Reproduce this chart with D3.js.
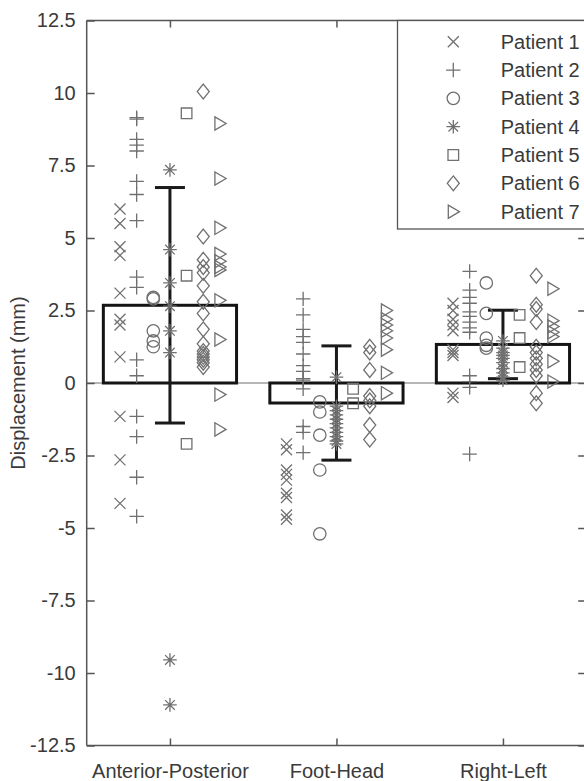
<!DOCTYPE html>
<html><head><meta charset="utf-8">
<script src="https://cdn.jsdelivr.net/npm/d3@7"></script>
<style>body{margin:0;background:#fff}svg{display:block}text{font-family:"Liberation Sans",Arial,sans-serif}</style>
</head><body><svg id="c" width="584" height="781"></svg>
<script>
const categories = ["Anterior-Posterior", "Foot-Head", "Right-Left"];
const yTicks = [-12.5, -10, -7.5, -5, -2.5, 0, 2.5, 5, 7.5, 10, 12.5];
const barMeans = [2.68, -0.69, 1.33];
const barStd = [4.06, 1.97, 1.18];
const patientNames = ["Patient 1","Patient 2","Patient 3","Patient 4","Patient 5","Patient 6","Patient 7"];
const patientOffsets = [-0.3, -0.2, -0.1, 0, 0.1, 0.2, 0.3];
// per patient: [AP values, FH values, RL values]
const patient1 = [[6.0, 5.5, 4.7, 4.4, 3.1, 2.2, 2.0, 0.9, -1.15, -2.65, -4.15],
                  [-2.1, -2.3, -3.0, -3.15, -3.35, -3.8, -3.95, -4.55, -4.7],
                  [2.75, 2.5, 2.2, 2.0, 1.8, 1.15, 1.05, 0.95, -0.35, -0.5]];
const patient2 = [[9.15, 9.1, 8.4, 8.2, 8.0, 6.95, 6.5, 5.6, 3.65, 3.3, 0.8, 0.25, -1.15, -1.85, -3.25, -4.6],
                  [2.9, 2.35, 1.85, 1.6, 1.4, 1.0, 0.6, 0.4, 0.15, 0.1, -0.2, -1.5, -1.7, -2.4],
                  [3.85, 3.2, 2.95, 2.75, 2.45, 2.3, 2.1, 1.9, 1.75, 0.25, 0.05, -0.15, -2.45]];
const patient3 = [[2.95, 2.9, 1.8, 1.45, 1.25],
                  [-0.65, -1.0, -1.8, -3.0, -5.2],
                  [3.45, 2.4, 1.55, 1.3, 1.2]];
const patient4 = [[7.35, 4.6, 3.45, 2.65, 1.8, 1.05, -9.55, -11.1],
                  [0.2, -0.8, -0.95, -1.1, -1.25, -1.4, -1.55, -1.7, -1.85, -2.0, -2.1],
                  [1.45, 1.2, 1.05, 0.95, 0.85, 0.7, 0.5, 0.35, 0.2, 0.1]];
const patient5 = [[9.3, 3.7, -2.1],
                  [-0.2, -0.7],
                  [2.35, 1.55, 0.55]];
const patient6 = [[10.05, 5.05, 4.25, 4.0, 3.8, 3.35, 2.8, 2.4, 1.85, 1.35, 1.1, 1.0, 0.9, 0.8, 0.7, 0.55],
                  [1.25, 1.05, 0.45, -0.45, -0.6, -0.8, -1.45, -1.95],
                  [3.7, 2.7, 2.55, 2.1, 1.25, 1.05, 0.85, 0.65, 0.45, 0.25, -0.35, -0.7]];
const patient7 = [[8.95, 7.05, 5.35, 4.45, 4.2, 4.0, 3.9, 2.85, 1.5, -0.4, -1.6],
                  [2.5, 2.2, 2.0, 1.8, 1.55, 1.15, 0.35, -0.35],
                  [3.25, 2.15, 1.95, 1.75, 1.6, 0.75, 0.05]];
const patients = [patient1, patient2, patient3, patient4, patient5, patient6, patient7];

const svg = d3.select("#c");
const L = 86.7, R = 586.2, T = 20.5, B = 745.5;
const x = d3.scaleLinear().domain([0.5, 3.5]).range([L, R]);
const y = d3.scaleLinear().domain([-12.5, 12.5]).range([B, T]);
const axisCol = "#555", textCol = "#3a3a3a", markCol = "#707070";
const FS = 20;

// marker paths
const markers = [
  "M-5.5,-5.5L5.5,5.5M-5.5,5.5L5.5,-5.5",
  "M-7.2,0H7.2M0,-7.2V7.2",
  "circle",
  "M-6.8,0H6.8M0,-6.8V6.8M-4.8,-4.8L4.8,4.8M-4.8,4.8L4.8,-4.8",
  "M-5.3,-5.3H5.3V5.3H-5.3Z",
  "M0,-7.4L6,0L0,7.4L-6,0Z",
  "M-5,-6.6L6.2,0L-5,6.6Z"
];
function drawMarker(g, k, cx, cy) {
  if (markers[k] === "circle") {
    g.append("circle").attr("cx", cx).attr("cy", cy).attr("r", 6.2)
      .attr("fill", "none").attr("stroke", markCol).attr("stroke-width", 1.3);
  } else {
    g.append("path").attr("d", markers[k]).attr("transform", `translate(${cx},${cy})`)
      .attr("fill", "none").attr("stroke", markCol).attr("stroke-width", 1.3);
  }
}

// baseline at 0
svg.append("line").attr("x1", L).attr("x2", R).attr("y1", y(0)).attr("y2", y(0))
  .attr("stroke", "#6e6e6e").attr("stroke-width", 1.2);

// bars
const bw = 0.8;
svg.selectAll("rect.bar").data(barMeans).join("rect").attr("class", "bar")
  .attr("x", (d, i) => x(i + 1 - bw / 2)).attr("width", x(bw) - x(0))
  .attr("y", d => y(Math.max(0, d))).attr("height", d => Math.abs(y(d) - y(0)))
  .attr("fill", "none").attr("stroke", "#141414").attr("stroke-width", 3);

// error bars
const eb = svg.append("g").attr("stroke", "#1a1a1a").attr("stroke-width", 3);
barMeans.forEach((m, i) => {
  const cx = x(i + 1), cw = 15;
  eb.append("line").attr("x1", cx).attr("x2", cx).attr("y1", y(m + barStd[i])).attr("y2", y(m - barStd[i]));
  eb.append("line").attr("x1", cx - cw).attr("x2", cx + cw).attr("y1", y(m + barStd[i])).attr("y2", y(m + barStd[i]));
  eb.append("line").attr("x1", cx - cw).attr("x2", cx + cw).attr("y1", y(m - barStd[i])).attr("y2", y(m - barStd[i]));
});

// scatter
const sg = svg.append("g");
patients.forEach((p, k) => {
  p.forEach((vals, ci) => {
    vals.forEach(v => drawMarker(sg, k, x(ci + 1 + patientOffsets[k]), y(v)));
  });
});

// axes
const fmt = d => String(d);
const gl = svg.append("g").attr("transform", `translate(${L},0)`)
  .call(d3.axisLeft(y).tickValues(yTicks).tickFormat(fmt).tickSize(-8).tickPadding(11));
const gr = svg.append("g").attr("transform", `translate(${R},0)`)
  .call(d3.axisRight(y).tickValues(yTicks).tickFormat("").tickSize(-8));
const gb = svg.append("g").attr("transform", `translate(0,${B})`)
  .call(d3.axisBottom(x).tickValues([1, 2, 3]).tickFormat((d) => categories[d - 1]).tickSize(-7).tickPadding(18.5));
const gt = svg.append("g").attr("transform", `translate(0,${T})`)
  .call(d3.axisTop(x).tickValues([1, 2, 3]).tickFormat("").tickSize(-7));
[gl, gr, gb, gt].forEach(g => {
  g.selectAll(".domain").attr("stroke", axisCol).attr("stroke-width", 1.5);
  g.selectAll(".tick line").attr("stroke", axisCol).attr("stroke-width", 1.5);
  g.selectAll("text").attr("fill", textCol).style("font-size", FS + "px").style("font-family", '"Liberation Sans", Arial, sans-serif');
});
gl.select(".domain").attr("d", `M0,${T}V${B}`);
gr.select(".domain").attr("d", `M0,${T}V${B}`);
gb.select(".domain").attr("d", `M${L},0H${R}`);
gt.select(".domain").attr("d", `M${L},0H${R}`);

// y label
svg.append("text").attr("transform", `translate(25,${y(0)}) rotate(-90)`)
  .attr("text-anchor", "middle").attr("fill", textCol).style("font-size", FS + "px")
  .text("Displacement (mm)");

// legend
const lg = svg.append("g");
lg.append("rect").attr("x", 397.5).attr("y", T).attr("width", R - 397.5 + 2).attr("height", 229 - T)
  .attr("fill", "#fff").attr("stroke", axisCol).attr("stroke-width", 1.3);
patientNames.forEach((n, k) => {
  const cy = 41.7 + k * 28.33;
  drawMarker(lg, k, 453.3, cy);
  lg.append("text").attr("x", 500.7).attr("y", cy).attr("dy", "0.35em")
    .attr("fill", textCol).style("font-size", FS + "px").text(n);
});
</script></body></html>
